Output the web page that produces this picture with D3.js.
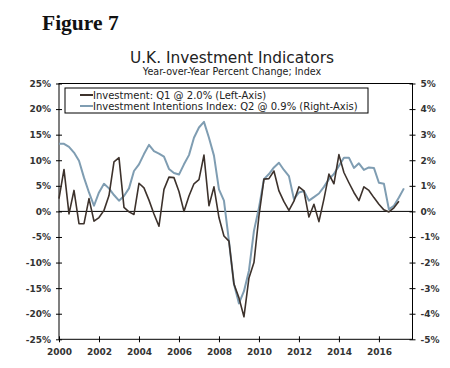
<!DOCTYPE html>
<html>
<head>
<meta charset="utf-8">
<script src="https://cdn.jsdelivr.net/npm/d3@7"></script>
<style>
  body { margin: 0; background: #fff; }
  text { font-family: "DejaVu Sans", Verdana, sans-serif; }
</style>
</head>
<body>
<svg id="chart" width="450" height="368"></svg>
<script>
//============================================================
// Data (quarterly, starting 2000 Q1)
//------------------------------------------------------------

var startYear = 2000;

// Investment, yoy % change (left axis), 2000 Q1 .. 2017 Q1
var investment = [
    2.5, 8.2, -0.5, 4.1, -2.4, -2.4, 2.5, -1.9,
    -1.2, 0.2, 3.1, 9.7, 10.5, 0.8, -0.1, -0.6,
    5.5, 4.6, 2.2, -0.5, -2.9, 4.3, 6.7, 6.6,
    3.9, 0.0, 3.0, 5.4, 6.2, 11.0, 1.1, 4.8,
    -1.2, -4.8, -5.8, -14.2, -16.9, -20.6, -13.0, -10.0,
    -0.9, 6.3, 6.4, 7.9, 4.0, 1.9, 0.2, 2.0,
    4.8, 4.0, -1.1, 1.4, -2.0, 2.4, 7.3, 5.4,
    11.1, 7.6, 5.6, 3.7, 2.1, 4.8, 4.1, 2.7,
    1.4, 0.3, -0.1, 0.7, 2.0
];

// Investment intentions index (right axis), 2000 Q1 .. 2017 Q2
var intentions = [
    2.64, 2.64, 2.52, 2.30, 1.98, 1.32, 0.74, 0.22,
    0.74, 1.08, 0.90, 0.64, 0.42, 0.60, 0.90, 1.58,
    1.84, 2.24, 2.60, 2.36, 2.26, 2.14, 1.66, 1.50,
    1.44, 1.84, 2.20, 2.88, 3.28, 3.50, 2.88, 2.18,
    0.86, 0.42, -1.16, -2.84, -3.60, -3.12, -2.32, -0.76,
    0.14, 1.26, 1.46, 1.72, 1.90, 1.62, 1.38, 0.48,
    0.74, 0.80, 0.42, 0.56, 0.70, 0.96, 1.26, 1.46,
    1.78, 2.10, 2.10, 1.70, 1.88, 1.62, 1.72, 1.70,
    1.12, 1.08, 0.08, 0.22, 0.54, 0.90
];

var yearTicks = [2000, 2002, 2004, 2006, 2008, 2010, 2012, 2014, 2016];
var leftTicks = [-25, -20, -15, -10, -5, 0, 5, 10, 15, 20, 25];
var rightTicks = [-5, -4, -3, -2, -1, 0, 1, 2, 3, 4, 5];

var seriesNames = [
    "Investment: Q1 @ 2.0% (Left-Axis)",
    "Investment Intentions Index: Q2 @ 0.9% (Right-Axis)"
];
var seriesColors = ["#3d322c", "#7f9db2"];

//============================================================
// Layout
//------------------------------------------------------------

var margin = {top: 83.5, right: 37.5, bottom: 28.7, left: 59}
    , width = 450
    , height = 368
    , plotW = width - margin.left - margin.right
    , plotH = height - margin.top - margin.bottom
    ;

var svg = d3.select("#chart");

var x = d3.scaleLinear().domain([startYear, 2017.68]).range([0, plotW]);
var yL = d3.scaleLinear().domain([-25, 25]).range([plotH, 0]);
var yR = d3.scaleLinear().domain([-5, 5]).range([plotH, 0]);

function qDate(i) { return startYear + i / 4; }

// headings
svg.append("text")
    .attr("x", 42).attr("y", 30)
    .style("font-family", "'Liberation Serif', serif")
    .style("font-weight", "bold")
    .style("font-size", "21.5px")
    .attr("fill", "#111")
    .text("Figure 7");

svg.append("text")
    .attr("x", 232).attr("y", 62.5)
    .attr("text-anchor", "middle")
    .style("font-size", "15.4px")
    .attr("fill", "#222")
    .text("U.K. Investment Indicators");

svg.append("text")
    .attr("x", 232).attr("y", 74.5)
    .attr("text-anchor", "middle")
    .style("font-size", "9.6px")
    .attr("fill", "#222")
    .text("Year-over-Year Percent Change; Index");

var g = svg.append("g")
    .attr("transform", "translate(" + margin.left + "," + margin.top + ")");

// frame
g.append("rect")
    .attr("x", 0).attr("y", 0)
    .attr("width", plotW).attr("height", plotH)
    .attr("fill", "none")
    .attr("stroke", "#000")
    .attr("stroke-width", 1);

// zero line
g.append("line")
    .attr("x1", 0).attr("x2", plotW)
    .attr("y1", yL(0)).attr("y2", yL(0))
    .attr("stroke", "#000")
    .attr("stroke-width", 1);

// axes
function styleAxis(sel) {
    sel.select(".domain").remove();
    sel.selectAll(".tick line").attr("stroke", "#000");
    sel.selectAll(".tick text")
        .style("font-family", "'DejaVu Sans', Verdana, sans-serif")
        .style("font-size", "9px")
        .style("font-weight", "bold")
        .attr("fill", "#333");
}

var fmtPct = function(d) { return d + "%"; };

var leftAxis = g.append("g")
    .attr("transform", "translate(-3,0)")
    .call(d3.axisRight(yL).tickValues(leftTicks).tickFormat(fmtPct).tickSize(6).tickPadding(0));
leftAxis.call(styleAxis);
leftAxis.selectAll(".tick text").attr("x", -5).attr("text-anchor", "end");

var rightAxis = g.append("g")
    .attr("transform", "translate(" + (plotW + 3) + ",0)")
    .call(d3.axisLeft(yR).tickValues(rightTicks).tickFormat(fmtPct).tickSize(6).tickPadding(0));
rightAxis.call(styleAxis);
rightAxis.selectAll(".tick text").attr("x", 5).attr("text-anchor", "start");

var bottomAxis = g.append("g")
    .attr("transform", "translate(0," + (plotH + 3) + ")")
    .call(d3.axisTop(x).tickValues(yearTicks).tickFormat(d3.format("d")).tickSize(6).tickPadding(0));
bottomAxis.call(styleAxis);
bottomAxis.selectAll(".tick text").attr("y", 13).attr("dy", 0);

// series
var lineL = d3.line()
    .x(function(d, i) { return x(qDate(i)); })
    .y(function(d) { return yL(d); });
var lineR = d3.line()
    .x(function(d, i) { return x(qDate(i)); })
    .y(function(d) { return yR(d); });

g.append("path")
    .datum(intentions)
    .attr("d", lineR)
    .attr("fill", "none")
    .attr("stroke", seriesColors[1])
    .attr("stroke-width", 2)
    .attr("stroke-linejoin", "round");

g.append("path")
    .datum(investment)
    .attr("d", lineL)
    .attr("fill", "none")
    .attr("stroke", seriesColors[0])
    .attr("stroke-width", 1.6)
    .attr("stroke-linejoin", "round");

// legend
var legend = svg.append("g").attr("transform", "translate(65,88)");
legend.append("rect")
    .attr("width", 303).attr("height", 25)
    .attr("fill", "#fff")
    .attr("stroke", "#000")
    .attr("stroke-width", 1);

var items = legend.selectAll("g.item")
    .data(seriesNames)
    .enter().append("g")
    .attr("class", "item")
    .attr("transform", function(d, i) { return "translate(0," + (7 + i * 11) + ")"; });

items.append("line")
    .attr("x1", 15).attr("x2", 28)
    .attr("y1", 0).attr("y2", 0)
    .attr("stroke", function(d, i) { return seriesColors[i]; })
    .attr("stroke-width", 2);

items.append("text")
    .attr("x", 28).attr("y", 3.6)
    .style("font-size", "10px")
    .attr("fill", "#222")
    .text(function(d) { return d; });
</script>
</body>
</html>
